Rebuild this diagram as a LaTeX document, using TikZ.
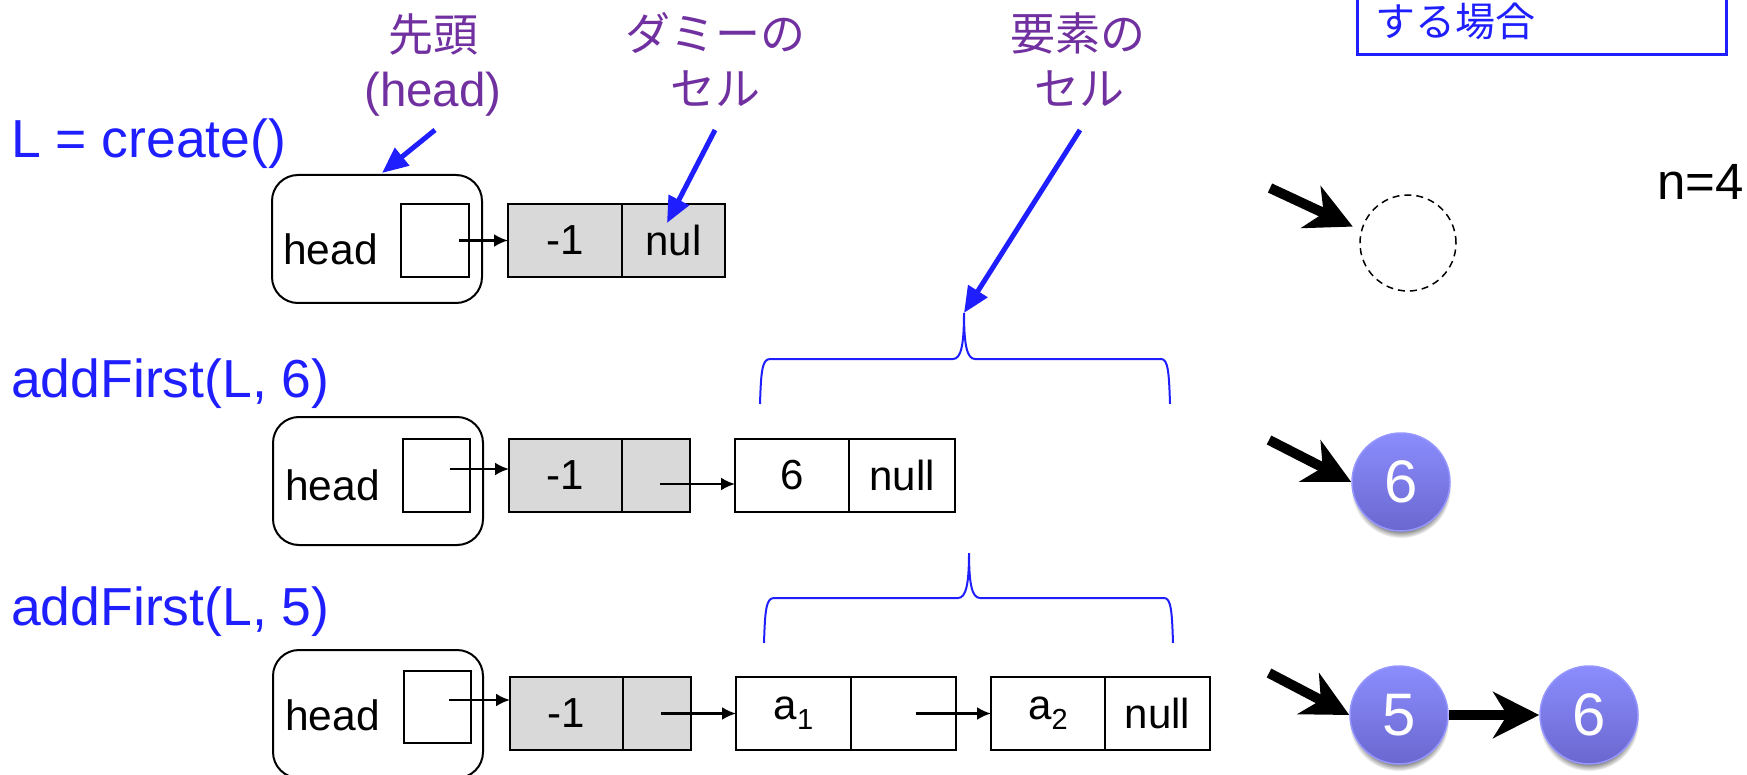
\documentclass[tikz,border=0pt]{standalone}
\usepackage{fontspec}
\setmainfont{Liberation Sans}
\newfontfamily\jpfont{Noto Sans CJK JP}
\usetikzlibrary{arrows.meta,shadows,calc}
\definecolor{labelblue}{RGB}{30,30,255}
\definecolor{lblpurple}{RGB}{112,48,160}
\definecolor{cellgrey}{RGB}{217,217,217}
\definecolor{circtop}{RGB}{139,141,254}
\definecolor{circbot}{RGB}{107,103,207}
\definecolor{circedge}{RGB}{150,150,255}
\begin{document}
\begin{tikzpicture}[x=1pt,y=-1pt,
  cell/.style={draw=black, line width=2.5pt, minimum height=73pt, inner sep=0pt, outer sep=0pt, anchor=north west, font=\fontsize{42}{42}\selectfont},
  greycell/.style={cell, fill=cellgrey},
  headbox/.style={draw=black, line width=2pt, rounded corners=26pt, minimum width=210pt, minimum height=128pt, anchor=north west, inner sep=0pt, outer sep=0pt},
  ptrbox/.style={draw=black, line width=2pt, minimum width=68pt, minimum height=73pt, anchor=north west, inner sep=0pt, outer sep=0pt},
  headtxt/.style={anchor=base west, inner sep=0pt, font=\fontsize{42.5}{42.5}\selectfont},
  ptr/.style={-{Latex[length=14pt,width=13pt]}, line width=2.5pt},
  calltxt/.style={anchor=base west, inner sep=0pt, text=labelblue, font=\fontsize{53.5}{53.5}\selectfont},
  notetxt/.style={anchor=base, inner sep=0pt, text=lblpurple, font=\fontsize{45}{45}\selectfont\jpfont},
  notelatin/.style={anchor=base, inner sep=0pt, text=lblpurple, font=\fontsize{47.5}{47.5}\selectfont},
  bluearrow/.style={draw=labelblue, line width=5pt, -{Triangle[length=26pt,width=22pt]}},
  brace/.style={draw=labelblue, line width=2pt},
  fat/.style={line width=10pt, -{Stealth[length=46pt,width=46pt,inset=14pt]}},
  listnode/.style={circle, minimum size=98pt, inner sep=0pt, top color=circtop, bottom color=circbot, draw=circedge, line width=1.5pt, text=white, font=\fontsize{60}{60}\selectfont, circular drop shadow={shadow xshift=0pt, shadow yshift=-6pt, shadow scale=1.02}}
]
\useasboundingbox (0,0) rectangle (1747,775);
\clip (0,0) rectangle (1747,775);

% ---- call labels
\node[calltxt] (c1) at (11,158) {L = create()};
\node[calltxt] (c2) at (11,397) {addFirst(L, 6)};
\node[calltxt] (c3) at (11,625) {addFirst(L, 5)};

% ---- purple notes
\node[notetxt] (lh1) at (433,52) {先頭};
\node[notelatin] (lh2) at (433,107) {(head)};
\node[notetxt] (ld1) at (715,51) {ダミーの};
\node[notetxt] (ld2) at (715,106) {セル};
\node[notetxt] (le1) at (1078,51) {要素の};
\node[notetxt] (le2) at (1079,106) {セル};

% ---- condition box (top right)
\node[draw=labelblue, line width=2.5pt, anchor=south west, minimum width=369pt, minimum height=120pt, inner sep=0pt] (cond) at (1356,56) {};
\node[anchor=base west, inner sep=0pt, text=labelblue, font=\fontsize{40}{40}\selectfont\jpfont] (condtxt) at (1375,37) {する場合};

% ---- row 1
\node[headbox] (hb1) at (272,175) {};
\node[headtxt] (ht1) at (283,265) {head};
\node[ptrbox] (sq1) at (401,204) {};
\node[greycell, minimum width=114pt] (d1v) at (508,204) {-1};
\node[greycell, minimum width=103pt] (d1n) at (622,204) {nul};
\draw[ptr] ([xshift=24pt]sq1.center) -- (d1v.west);

% ---- row 2
\node[headbox] (hb2) at (273,417) {};
\node[headtxt] (ht2) at (285,500) {head};
\node[ptrbox, minimum width=67pt] (sq2) at (403,439) {};
\node[greycell, minimum width=113pt] (d2v) at (509,439) {-1};
\node[greycell, minimum width=68pt] (d2n) at (622,439) {};
\node[cell, minimum width=114pt] (e2v) at (735,439) {6};
\node[cell, minimum width=106pt] (e2n) at (849,439) {null};
\draw[ptr] ([xshift=13pt,yshift=6.5pt]sq2.center) coordinate (p2) -- (p2 -| d2v.west);
\draw[ptr] ([xshift=4pt,yshift=-8.5pt]d2n.center) coordinate (q2) -- (q2 -| e2v.west);

% ---- row 3
\node[headbox] (hb3) at (273,650) {};
\node[headtxt] (ht3) at (285,730) {head};
\node[ptrbox, minimum width=67pt, minimum height=72pt] (sq3) at (404,671) {};
\node[greycell, minimum width=113pt] (d3v) at (510,677) {-1};
\node[greycell, minimum width=68pt] (d3n) at (623,677) {};
\node[cell, minimum width=115pt] (a1v) at (736,677) {a\raisebox{-10pt}{\fontsize{29}{29}\selectfont 1}};
\node[cell, minimum width=105pt] (a1n) at (851,677) {};
\node[cell, minimum width=114pt] (a2v) at (991,677) {a\raisebox{-10pt}{\fontsize{29}{29}\selectfont 2}};
\node[cell, minimum width=105pt] (a2n) at (1105,677) {null};
\draw[ptr] ([xshift=11.5pt,yshift=7pt]sq3.center) coordinate (p3) -- (p3 -| d3v.west);
\draw[ptr] ([xshift=4pt]d3n.center) coordinate (q3) -- (q3 -| a1v.west);
\draw[ptr] ([xshift=12pt]a1n.center) coordinate (r3) -- (r3 -| a2v.west);

% ---- braces
\coordinate (bt1) at (964,313);
\draw[brace] (760,404) .. controls (761,372) and (762,359) .. (770,359) -- (953,359)
  .. controls (961,359) and (964,345) .. (bt1)
  .. controls (964,345) and (967,359) .. (975,359) -- (1161,359)
  .. controls (1168,359) and (1169,372) .. (1170,404);
\coordinate (bt2) at (969,553);
\draw[brace] (764,643) .. controls (765,611) and (766,598) .. (774,598) -- (958,598)
  .. controls (966,598) and (969,584) .. (bt2)
  .. controls (969,584) and (972,598) .. (980,598) -- (1164,598)
  .. controls (1171,598) and (1172,611) .. (1173,643);

% ---- note arrows
\draw[bluearrow] ([xshift=2pt,yshift=-23pt]lh2.base) -- ([xshift=5pt,yshift=2pt]hb1.north);
\draw[bluearrow] ([yshift=-24pt]ld2.base) -- ([xshift=-6.5pt,yshift=-19pt]d1n.north);
\draw[bluearrow] ([xshift=1pt,yshift=-24pt]le2.base) -- (bt1);

% ---- right side lists
\node[circle, draw=black, dash pattern=on 7pt off 5pt, line width=1.5pt, minimum size=96pt, inner sep=0pt] (c0) at (1408,243) {};
\node[anchor=base west, inner sep=0pt, font=\fontsize{51}{51}\selectfont] (nlabel) at (1657,200) {n=4};
\node[listnode] (n6a) at (1401,482) {6};
\node[listnode] (n5) at (1399,715) {5};
\node[listnode] (n6b) at (1589,715) {6};
\coordinate (f1) at (1270,188);
\coordinate (f2) at (1269,440);
\coordinate (f3) at (1269,673);
\draw[fat, shorten >=9pt] (f1) -- (c0.165);
\draw[fat] (f2) -- (n6a.west);
\draw[fat] (f3) -- (n5.west);
\draw[fat] (n5.east) -- (n6b.west);
\end{tikzpicture}
\end{document}
